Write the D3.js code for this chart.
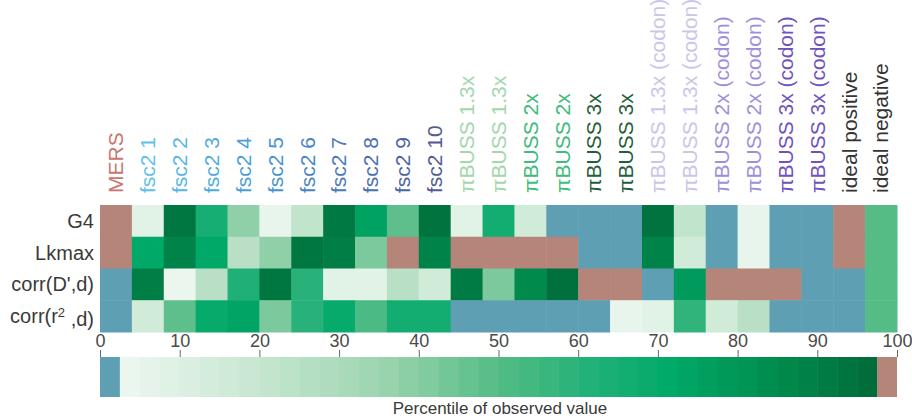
<!doctype html>
<html>
<head>
<meta charset="utf-8">
<script src="https://d3js.org/d3.v7.min.js"></script>
<style>
  body { margin: 0; background: #fff; }
  text { font-family: "Liberation Sans", Arial, sans-serif; }
</style>
</head>
<body>
<div id="chart"></div>
<script>
// column names (methods) and the rows (statistics)
var columns = ["MERS", "fsc2 1", "fsc2 2", "fsc2 3", "fsc2 4", "fsc2 5", "fsc2 6", "fsc2 7", "fsc2 8", "fsc2 9", "fsc2 10",
  "πBUSS 1.3x", "πBUSS 1.3x", "πBUSS 2x", "πBUSS 2x", "πBUSS 3x", "πBUSS 3x",
  "πBUSS 1.3x (codon)", "πBUSS 1.3x (codon)", "πBUSS 2x (codon)", "πBUSS 2x (codon)", "πBUSS 3x (codon)", "πBUSS 3x (codon)",
  "ideal positive", "ideal negative"];
var rows = ["G4", "Lkmax", "corr(D',d)", "corr(r^2,d)"];

// percentile of observed value, one array per row
var g4 =    [99,  8, 93, 65, 38,  5, 22, 92, 75, 48, 94,  8, 66, 15,  1,  1,  1, 94, 22,  1,  5,  1,  1, 99, 50];
var lkmax = [99, 72, 88, 72, 25, 38, 93, 90, 42, 99, 88, 99, 99, 99, 99,  1,  1, 88, 15,  1,  5,  1,  1, 99, 50];
var corrD = [ 1, 90,  4, 25, 62, 93, 60,  8,  8, 25, 15, 91, 42, 85, 95, 99, 99,  1, 78, 99, 99, 99,  1,  1, 50];
var corrR = [ 1, 15, 48, 70, 74, 42, 60, 70, 52, 66, 66,  1,  1,  1,  1,  1,  5,  8, 58, 15, 25,  1,  1,  1, 50];
var values = [g4, lkmax, corrD, corrR];

var xTicks = [0, 10, 20, 30, 40, 50, 60, 70, 80, 90, 100];

// label colours for the column headers
var labelColors = ["#c8766e", "#62c0ea", "#58b6e6", "#50abe0", "#4aa0da", "#4893d0", "#4886c6", "#4a7abd", "#4b6eb1", "#4e63a5", "#535a95",
  "#a2d7ab", "#a2d7ab", "#3fbb7b", "#3fbb7b", "#1f5f3a", "#1f5f3a",
  "#cbc5e8", "#cbc5e8", "#9d90da", "#9d90da", "#6f52bf", "#6f52bf", "#333", "#333"];

var svg = d3.select("#chart").append("svg")
  .attr("width", 912)
  .attr("height", 418);

var x = d3.scaleLinear().domain([0, 100]).range([100, 897]);
var colW = x(4) - x(0);
var y = d3.scaleBand().domain(rows).range([205, 332]);

var low = "#5e9fb4", high = "#b5857a";
var green = d3.scaleLinear()
  .domain([2.5, 20, 35, 50, 62, 72, 85, 97.5])
  .range(["#eef7f1", "#c6e6d0", "#9ed5b1", "#55bc86", "#1fb077", "#00a968", "#008b4d", "#006a39"])
  .clamp(true);
function color(v) {
  if (v < 2.5) return low;
  if (v > 97.5) return high;
  return green(v);
}

// heatmap cells
rows.forEach(function(r, i) {
  svg.append("g").selectAll("rect")
    .data(values[i])
    .enter().append("rect")
      .attr("x", function(d, j) { return x(j * 4); })
      .attr("y", y(r))
      .attr("width", colW + 0.5)
      .attr("height", y.bandwidth() + 0.5)
      .style("fill", function(d) { return color(d); });
});

// row labels
var rowLab = svg.append("g").selectAll("text")
  .data(rows)
  .enter().append("text")
    .attr("x", 94)
    .attr("y", function(d) { return y(d) + y.bandwidth() / 2; })
    .attr("dy", "0.35em")
    .attr("text-anchor", "end")
    .style("font-size", "20px")
    .style("fill", "#3a3a3a");
rowLab.each(function(d) {
  var t = d3.select(this);
  var parts = d.split("^2");
  t.append("tspan").text(parts[0]);
  if (parts.length > 1) {
    t.append("tspan").attr("dy", "-0.45em").style("font-size", "13px").text("2");
    t.append("tspan").attr("dy", "0.45em").text(" " + parts[1]);
  }
});

// column labels
svg.append("g").selectAll("text")
  .data(columns)
  .enter().append("text")
    .attr("transform", function(d, j) { return "translate(" + (x(j * 4) + colW / 2) + ",193) rotate(-90)"; })
    .attr("dy", "0.35em")
    .style("font-size", "21px")
    .style("fill", function(d, j) { return labelColors[j]; })
    .text(function(d) { return d; });

// colour bar
var barTop = 357, barH = 40;
var bands = d3.range(2.5, 97.5, 2.5);
svg.append("rect").attr("x", x(0)).attr("y", barTop).attr("width", x(2.5) - x(0)).attr("height", barH).style("fill", low);
svg.append("g").selectAll("rect")
  .data(bands)
  .enter().append("rect")
    .attr("x", function(d) { return x(d); })
    .attr("y", barTop)
    .attr("width", x(2.5) - x(0) + 0.5)
    .attr("height", barH)
    .style("fill", function(d) { return green(d + 1.25); });
svg.append("rect").attr("x", x(97.5)).attr("y", barTop).attr("width", x(100) - x(97.5)).attr("height", barH).style("fill", high);

// axis above the colour bar
var axis = svg.append("g")
  .attr("transform", "translate(0," + barTop + ")")
  .call(d3.axisTop(x).tickValues(xTicks).tickSize(7).tickPadding(3));
axis.select(".domain").remove();
axis.selectAll("line").style("stroke", "#666");
axis.selectAll("text")
  .style("font-size", "18px")
  .style("fill", "#4a4a4a")
  .style("font-family", "Liberation Sans, Arial, sans-serif");

svg.append("text")
  .attr("x", 500)
  .attr("y", 414)
  .attr("text-anchor", "middle")
  .style("font-size", "17px")
  .style("fill", "#3a3a3a")
  .text("Percentile of observed value");
</script>
</body>
</html>
